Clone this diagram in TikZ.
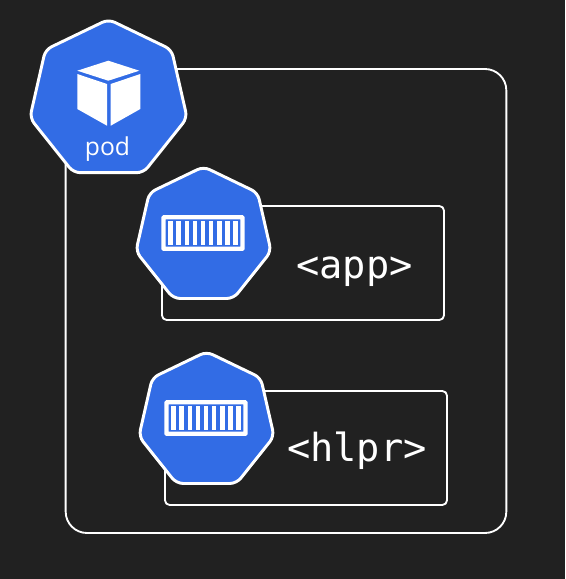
\documentclass[tikz,border=0pt]{standalone}
\usepackage{fontspec}
\setsansfont{Open Sans}
\setmonofont{DejaVu Sans Mono}
\usetikzlibrary{shapes.geometric}
\definecolor{bgdark}{HTML}{212121}
\definecolor{k8sblue}{HTML}{326CE5}
\tikzset{
  hepta/.style={regular polygon,regular polygon sides=7,draw=white,fill=k8sblue,
    line width=2.2pt,rounded corners=5pt,inner sep=0pt},
  framebox/.style={draw=white,line width=1.4pt,rounded corners=3.5pt,inner sep=0pt},
  codelabel/.style={text=white,font=\ttfamily\fontsize{29}{31}\selectfont,inner sep=0pt,anchor=base}
}
% one icon: frame and nine bars, origin at the centre of the frame
\newcommand{\containericon}[2]{
  \begin{scope}[shift={(#1,#2)}]
  \draw [white,line width=3.2pt,rounded corners=0.5pt] (-39.6,-15.8) rectangle (39.6,15.8);
  \foreach \i in {-4,...,4}
    \fill [white] (\i*8.05-2.4,-12.2) rectangle (\i*8.05+2.4,12.2);
  \end{scope}
}
\begin{document}
\begin{tikzpicture}[x=0.75pt,y=-0.75pt]
\useasboundingbox [fill=bgdark] (0,0) rectangle (565,579);

\node [framebox,rounded corners=16pt,minimum width=330.5pt,minimum height=348pt] (podbox) at (286,301) {};
\node [framebox,minimum width=211.5pt,minimum height=85.5pt] (appbox) at (303,263) {};
\node [framebox,minimum width=211.5pt,minimum height=85.5pt] (hlprbox) at (306,448) {};

\node [hepta,minimum size=121pt] (podshape) at (108.5,100) {};
\node [hepta,minimum size=104pt] (appshape) at (203.5,236) {};
\node [hepta,minimum size=104pt] (hlprshape) at (206.5,421) {};

% cube
\fill [white] (108.3,60.7) -- (139.3,70.7) -- (108.3,80.7) -- (77.3,70.7) -- cycle;
\fill [white] (77.3,74) -- (107,84) -- (107,125.7) -- (77.3,109) -- cycle;
\fill [white] (110.7,84) -- (140.3,74) -- (140.3,109) -- (110.7,125.7) -- cycle;
\node [text=white,font=\sffamily\fontsize{18.5}{20}\selectfont,inner sep=0pt] (podlabel) at (107.5,149) {pod};

\containericon{203}{233}
\containericon{206}{418}

\node [codelabel] (applabel) at (354.5,278.5) {<app>};
\node [codelabel] (hlprlabel) at (357,461.5) {<hlpr>};
\end{tikzpicture}
\end{document}
